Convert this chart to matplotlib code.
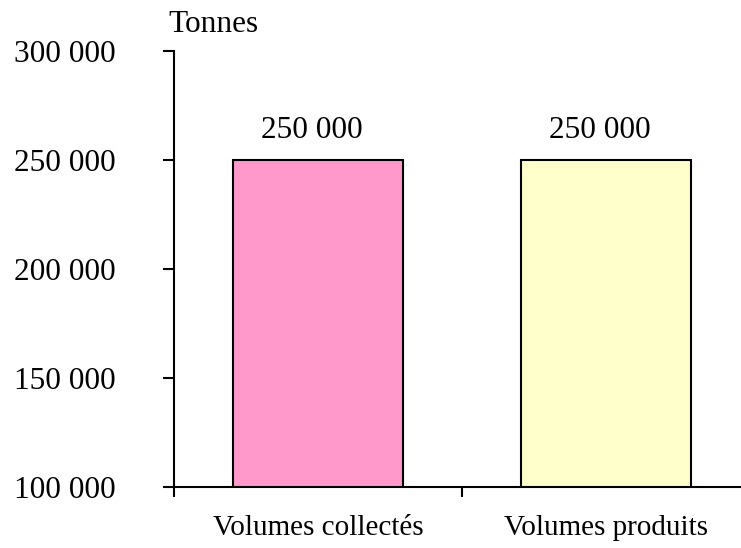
import matplotlib
matplotlib.use("Agg")
import matplotlib.pyplot as plt

categories = ["Volumes collectés", "Volumes produits"]
values = [250000, 250000]
colors = ["#FF99CC", "#FFFFCC"]
yticks = [100000, 150000, 200000, 250000, 300000]

def fmt(v):
    return f"{v:,}".replace(",", " ")

plt.rcParams['font.family'] = ['Liberation Serif', 'DejaVu Serif']

fig = plt.figure(figsize=(7.41, 5.48), dpi=100)
ax = fig.add_axes([174/741, 61/548, 576/741, 436/548])

x = range(len(categories))
ax.bar(x, values, width=0.59, color=colors, edgecolor="black", linewidth=1.5)
for xi, v in zip(x, values):
    ax.text(xi - 0.02, v + 13500, fmt(v), ha="center", va="center", fontsize=22.5)

ax.set_xlim(-0.5, len(categories) - 0.5)
ax.set_ylim(100000, 300000)
ax.set_yticks(yticks)
ax.set_yticklabels([fmt(t) for t in yticks])
ax.set_xticks([-0.5, 0.5, 1.5])
ax.set_xticklabels([])
ax.set_xticks(list(x), minor=True)
ax.set_xticklabels(categories, minor=True)
ax.tick_params(axis="x", which="minor", length=0, pad=20, labelsize=21)
ax.tick_params(axis="x", which="major", length=7.5, width=1.5, direction="out")
ax.tick_params(axis="y", length=8, width=1.5, direction="out", pad=34, labelsize=22.5)

for s in ["top", "right"]:
    ax.spines[s].set_visible(False)
for s in ["left", "bottom"]:
    ax.spines[s].set_linewidth(1.5)

fig.text(168/741, 1 - 24/548, "Tonnes", ha="left", va="center", fontsize=22.5)

fig.savefig("out.png", dpi=100)
